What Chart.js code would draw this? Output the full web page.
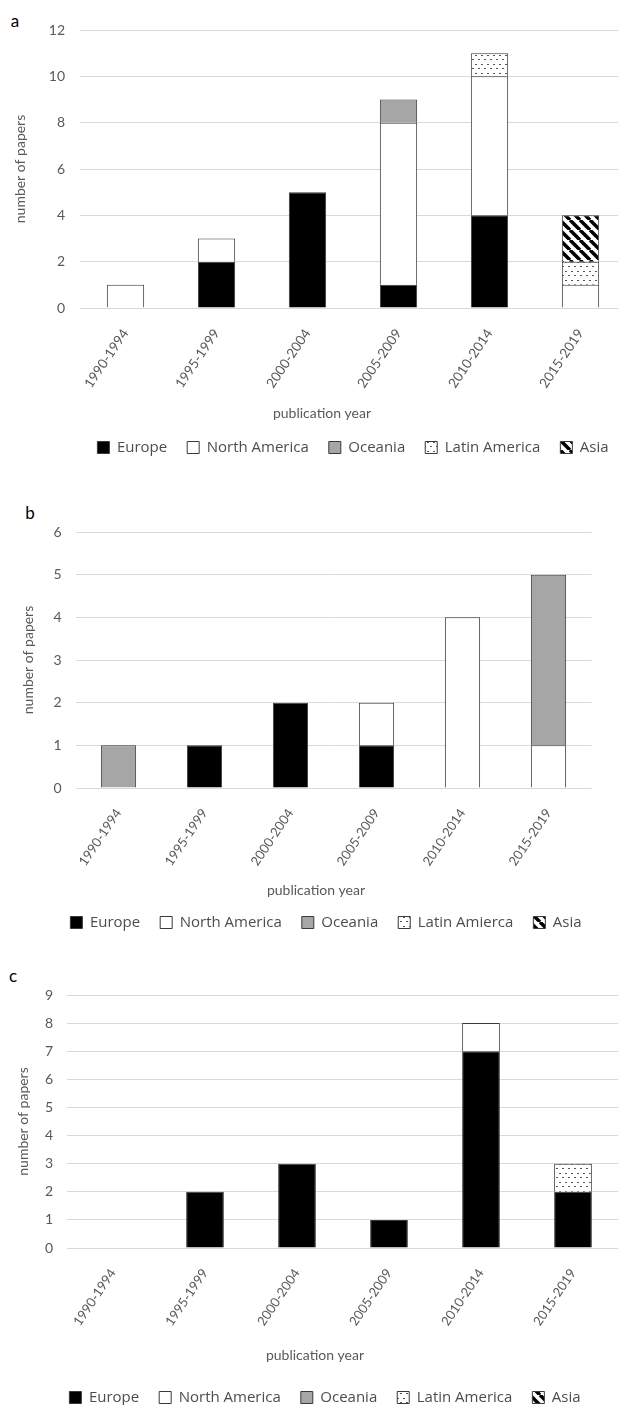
<!DOCTYPE html>
<html>
<head>
<meta charset="utf-8">
<script src="https://cdn.jsdelivr.net/npm/chart.js@4/dist/chart.umd.min.js"></script>
<style>
  body { margin: 0; width: 618px; height: 1405px; overflow: hidden; background: #fff; position: relative; font-family: Lato, sans-serif; }
  .panel { position: absolute; left: 0; width: 640px; }
  .tag { position: absolute; font-size: 17px; color: #000; transform: translate(-50%, -50%); line-height: 1; }
</style>
</head>
<body>
<div class="tag" style="left:15px;top:20px">a</div>
<div class="tag" style="left:30px;top:512px">b</div>
<div class="tag" style="left:13px;top:975px">c</div>

<div class="panel" style="top:0;height:465px"><canvas id="chartA"></canvas></div>
<div class="panel" style="top:502px;height:438px"><canvas id="chartB"></canvas></div>
<div class="panel" style="top:965px;height:450px"><canvas id="chartC"></canvas></div>

<script>
const years = ['1990-1994', '1995-1999', '2000-2004', '2005-2009', '2010-2014', '2015-2019'];
const regionNames = ['Europe', 'North America', 'Oceania', 'Latin America', 'Asia'];
const regionNamesB = ['Europe', 'North America', 'Oceania', 'Latin Amierca', 'Asia'];

// panel a
const europeA = [0, 2, 5, 1, 4, 0];
const northAmericaA = [1, 1, 0, 7, 6, 1];
const oceaniaA = [0, 0, 0, 1, 0, 0];
const latinAmericaA = [0, 0, 0, 0, 1, 1];
const asiaA = [0, 0, 0, 0, 0, 2];
const ticksA = [0, 2, 4, 6, 8, 10, 12];

// panel b
const europeB = [0, 1, 2, 1, 0, 0];
const northAmericaB = [0, 0, 0, 1, 4, 1];
const oceaniaB = [1, 0, 0, 0, 0, 4];
const latinAmericaB = [0, 0, 0, 0, 0, 0];
const asiaB = [0, 0, 0, 0, 0, 0];
const ticksB = [0, 1, 2, 3, 4, 5, 6];

// panel c
const europeC = [0, 2, 3, 1, 7, 2];
const northAmericaC = [0, 0, 0, 0, 1, 0];
const oceaniaC = [0, 0, 0, 0, 0, 0];
const latinAmericaC = [0, 0, 0, 0, 0, 1];
const asiaC = [0, 0, 0, 0, 0, 0];
const ticksC = [0, 1, 2, 3, 4, 5, 6, 7, 8, 9];

const grey = '#595959';

function dotPattern() {
  const c = document.createElement('canvas');
  c.width = 6; c.height = 9;
  const g = c.getContext('2d');
  g.fillStyle = '#fff';
  g.fillRect(0, 0, 6, 9);
  g.fillStyle = '#555';
  g.fillRect(1, 1, 2, 1);
  g.fillRect(4, 5, 2, 1);
  return g.createPattern(c, 'repeat');
}

function stripePattern() {
  const s = 10;
  const c = document.createElement('canvas');
  c.width = s; c.height = s;
  const g = c.getContext('2d');
  g.fillStyle = '#fff';
  g.fillRect(0, 0, s, s);
  g.strokeStyle = '#000';
  g.lineWidth = 3.5;
  g.beginPath();
  for (const k of [-s, 0, s]) {
    g.moveTo(k, 0);
    g.lineTo(k + s, s);
  }
  g.stroke();
  return g.createPattern(c, 'repeat');
}

const fills = ['#000', '#fff', '#a6a6a6', dotPattern(), stripePattern()];

// moves the legend to its place and writes the x axis title
const extras = {
  id: 'extras',
  afterLayout(chart, args, opts) {
    const lg = chart.legend;
    const dx = opts.legendCenter - (lg.left + lg.right) / 2;
    lg.left += dx;
    lg.right += dx;
  },
  afterDraw(chart, args, opts) {
    const ctx = chart.ctx;
    ctx.save();
    ctx.font = '14px Lato';
    ctx.fillStyle = grey;
    ctx.textAlign = 'center';
    ctx.textBaseline = 'middle';
    ctx.fillText('publication year', opts.xTitleX, opts.xTitleY);
    ctx.restore();
  }
};

function makeChart(id, names, series, ticks, lay) {
  return new Chart(document.getElementById(id), {
    type: 'bar',
    data: {
      labels: years,
      datasets: names.map((n, i) => ({
        label: n,
        data: series[i],
        backgroundColor: fills[i],
        borderColor: '#3a3a3a',
        borderWidth: 1,
        categoryPercentage: 1,
        barPercentage: 0.41
      }))
    },
    options: {
      responsive: true,
      maintainAspectRatio: false,
      animation: false,
      layout: { padding: { top: 30, right: lay.padRight, left: 0, bottom: 0 } },
      scales: {
        x: {
          stacked: true,
          grid: { display: false },
          border: { display: false },
          ticks: {
            color: grey,
            font: { family: 'Lato', size: lay.xFont },
            minRotation: 56,
            maxRotation: 56,
            autoSkip: false,
            padding: 10
          },
          afterFit: s => { s.height = lay.xHeight; }
        },
        y: {
          stacked: true,
          min: 0,
          max: ticks[ticks.length - 1],
          afterBuildTicks: s => { s.ticks = ticks.map(v => ({ value: v })); },
          grid: { color: '#d9d9d9', drawTicks: false },
          border: { display: false },
          ticks: { color: grey, font: { family: 'Lato', size: 14 }, padding: lay.tickPad },
          title: {
            display: true,
            text: 'number of papers',
            color: grey,
            font: { family: 'Lato', size: 14 },
            padding: { top: lay.yTitlePad, bottom: 0 }
          },
          afterFit: s => { s.width = lay.yWidth; }
        }
      },
      plugins: {
        legend: {
          position: 'bottom',
          labels: {
            boxWidth: 12,
            boxHeight: 12,
            padding: 20,
            color: '#4d4d4d',
            font: { family: '"Open Sans"', size: 15 }
          }
        },
        tooltip: { enabled: false },
        extras: { legendCenter: lay.legendCenter, xTitleX: lay.xTitleX, xTitleY: lay.xTitleY }
      }
    },
    plugins: [extras]
  });
}

makeChart('chartA', regionNames,
  [europeA, northAmericaA, oceaniaA, latinAmericaA, asiaA], ticksA,
  { yWidth: 80, tickPad: 15, yTitlePad: 12, xHeight: 112, padRight: 14, xFont: 13.5, legendCenter: 353, xTitleX: 322, xTitleY: 413 });

makeChart('chartB', regionNamesB,
  [europeB, northAmericaB, oceaniaB, latinAmericaB, asiaB], ticksB,
  { yWidth: 75.5, tickPad: 14, yTitlePad: 20, xHeight: 107, padRight: 48.5, xFont: 13, legendCenter: 326, xTitleX: 316, xTitleY: 388 });

makeChart('chartC', regionNames,
  [europeC, northAmericaC, oceaniaC, latinAmericaC, asiaC], ticksC,
  { yWidth: 67, tickPad: 14, yTitlePad: 15, xHeight: 122, padRight: 21, xFont: 13, legendCenter: 325, xTitleX: 315, xTitleY: 390 });
</script>
</body>
</html>
